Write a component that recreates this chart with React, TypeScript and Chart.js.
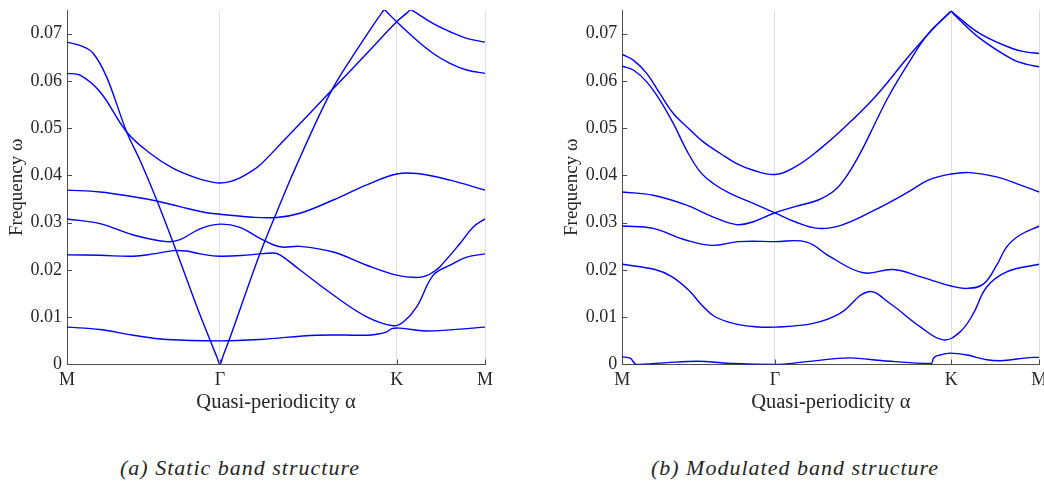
import React, { useEffect, useRef } from 'react';
import { Chart, registerables } from 'chart.js';

Chart.register(...registerables);

// ---- axes ----
const PATH_TICKS = [0, 36.6, 78.87, 100];
const PATH_LABELS = ['M', 'Γ', 'K', 'M'];
const FREQ_TICKS = [0, 0.01, 0.02, 0.03, 0.04, 0.05, 0.06, 0.07];
const FREQ_MAX = 0.075;

// ---- (a) static band structure ----
const staticA_k = [0, 3.11, 6.29, 9.5, 14.28, 17.46, 21.46, 26.24, 31.82, 35.9, 36.6, 37.3, 38.59, 46.17, 51.37, 53.35, 63.32, 69.3, 75.3, 75.91, 76.5, 78.87, 83.66, 87.63, 91.62, 95.62, 100];
const staticA_w = [0.0682, 0.0675, 0.0658, 0.0608, 0.0492, 0.0432, 0.0348, 0.0238, 0.0105, 0.0015, 0, 0.0017, 0.0047, 0.0235, 0.0348, 0.039, 0.058, 0.0665, 0.0744, 0.0751, 0.0746, 0.0725, 0.0686, 0.0658, 0.0637, 0.0623, 0.0616];

const staticB_k = [0, 3.11, 7.89, 14.28, 19.86, 25.43, 31.82, 34.21, 36.6, 38.99, 41.39, 43.78, 46.17, 51.75, 63.32, 71.7, 78.87, 81.6, 82.22, 82.8, 87.63, 91.62, 95.62, 100];
const staticB_w = [0.0616, 0.0612, 0.0577, 0.0492, 0.0447, 0.0415, 0.0392, 0.0387, 0.0384, 0.0387, 0.0395, 0.0407, 0.0422, 0.0473, 0.058, 0.0658, 0.0725, 0.0746, 0.0751, 0.0748, 0.0721, 0.0704, 0.069, 0.0682];

const staticC_k = [0, 7.89, 15.86, 21.46, 27.03, 33.4, 36.6, 43.78, 50.17, 55.74, 63.71, 71.7, 78.87, 83.66, 91.62, 100];
const staticC_w = [0.0369, 0.0365, 0.0355, 0.0346, 0.0334, 0.0321, 0.0318, 0.0312, 0.0311, 0.032, 0.0348, 0.038, 0.0403, 0.0404, 0.039, 0.0369];

const staticD_k = [0, 7.89, 15.86, 23.85, 27.03, 31.82, 36.6, 41.39, 46.17, 50.96, 55.74, 63.71, 71.7, 78.87, 83.66, 86.05, 87.63, 89.23, 94.02, 97.2, 100];
const staticD_w = [0.0308, 0.0298, 0.0274, 0.026, 0.0264, 0.0287, 0.0297, 0.029, 0.0267, 0.0249, 0.025, 0.0238, 0.021, 0.0189, 0.0184, 0.0188, 0.0196, 0.0207, 0.0256, 0.0291, 0.0308];

const staticE_k = [0, 7.89, 15.86, 20.7, 25.43, 28.6, 31.82, 36.6, 43.78, 49.35, 50.96, 55.74, 63.71, 71.7, 78.06, 80.45, 83.66, 87.63, 91.62, 95.62, 100];
const staticE_w = [0.0232, 0.0231, 0.0229, 0.0234, 0.0241, 0.024, 0.0234, 0.0229, 0.0232, 0.0236, 0.0232, 0.02, 0.0147, 0.0101, 0.0082, 0.009, 0.0122, 0.0189, 0.021, 0.0227, 0.0234];

const staticF_k = [0, 7.89, 15.86, 23.85, 36.6, 46.17, 59.74, 71.7, 74.09, 76.5, 77.7, 79.66, 86.05, 100];
const staticF_w = [0.0079, 0.0074, 0.0062, 0.0053, 0.005, 0.0053, 0.0062, 0.0062, 0.0064, 0.0069, 0.0076, 0.0077, 0.0071, 0.0079];

// ---- (b) modulated band structure ----
const modA_k = [0, 2.64, 5.85, 9.04, 12.23, 15.44, 19.42, 23.43, 27.43, 31.42, 36.6, 41.42, 47.0, 52.61, 60.6, 68.59, 74.2, 78.2, 78.87, 79.6, 85.78, 93.69, 97, 100];
const modA_w = [0.0656, 0.0644, 0.0616, 0.0573, 0.0531, 0.0503, 0.0471, 0.0447, 0.0425, 0.0411, 0.0402, 0.0418, 0.0453, 0.0496, 0.0566, 0.0651, 0.0707, 0.0742, 0.0747, 0.0742, 0.07, 0.0668, 0.0661, 0.0658];

const modB_k = [0, 2.64, 5.85, 9.04, 12.23, 15.44, 18.63, 21.82, 25.83, 31.42, 36.6, 41.42, 47.0, 52.61, 60.6, 68.59, 73.38, 78.87, 83.38, 89.78, 95.37, 100];
const modB_w = [0.0631, 0.0623, 0.0598, 0.0559, 0.051, 0.0453, 0.0408, 0.0383, 0.0362, 0.0341, 0.0321, 0.0302, 0.0288, 0.0295, 0.0327, 0.0365, 0.039, 0.0403, 0.0406, 0.0397, 0.038, 0.0365];

const modC_k = [0, 7.43, 15.44, 21.82, 27.43, 31.42, 36.6, 41.42, 47.0, 51.01, 54.2, 57.41, 60.6, 63.79, 68.59, 73.38, 78.2, 78.87, 79.6, 85.78, 93.69, 97, 100];
const modC_w = [0.0365, 0.0358, 0.0337, 0.0312, 0.0296, 0.0302, 0.0321, 0.0334, 0.0348, 0.0369, 0.0404, 0.0453, 0.051, 0.0566, 0.0637, 0.07, 0.0742, 0.0747, 0.074, 0.069, 0.0645, 0.0635, 0.063];

const modD_k = [0, 7.43, 14.63, 21.44, 27.82, 36.6, 44.22, 49.81, 57.79, 64.99, 71.39, 78.87, 82.59, 86.57, 89.78, 92.18, 95.37, 100];
const modD_w = [0.0293, 0.0288, 0.0265, 0.0252, 0.026, 0.026, 0.0259, 0.0228, 0.0194, 0.0201, 0.0186, 0.0166, 0.0161, 0.017, 0.021, 0.0249, 0.0274, 0.0293];

const modE_k = [0, 7.84, 11.85, 15.83, 19.04, 22.23, 27.03, 31.82, 36.6, 45.8, 52.21, 58.99, 64.2, 71.39, 76.98, 81.0, 84.2, 87.39, 92.18, 100];
const modE_w = [0.0212, 0.0201, 0.0186, 0.0158, 0.0126, 0.0101, 0.0086, 0.008, 0.0079, 0.0087, 0.0108, 0.0154, 0.0129, 0.008, 0.0052, 0.0069, 0.0108, 0.0164, 0.0196, 0.0212];

const modF_k = [0, 2.0, 2.64, 3.3, 10.7, 17.9, 26.7, 36.6, 44.2, 54.6, 62.6, 74.2, 74.6, 76.2, 78.6, 82.6, 87.4, 90.6, 98.6, 100];
const modF_w = [0.0016, 0.0013, 0.0006, 0, 0.0004, 0.0007, 0.0002, 0, 0.0006, 0.0014, 0.0008, 0.0002, 0.0013, 0.002, 0.0024, 0.002, 0.001, 0.0008, 0.0015, 0.0015];

type Band = { k: number[]; w: number[]; sharp: boolean };

const STATIC_BANDS: Band[] = [
  { k: staticA_k, w: staticA_w, sharp: true },
  { k: staticB_k, w: staticB_w, sharp: false },
  { k: staticC_k, w: staticC_w, sharp: false },
  { k: staticD_k, w: staticD_w, sharp: false },
  { k: staticE_k, w: staticE_w, sharp: false },
  { k: staticF_k, w: staticF_w, sharp: false },
];
const MOD_BANDS: Band[] = [
  { k: modA_k, w: modA_w, sharp: false },
  { k: modB_k, w: modB_w, sharp: false },
  { k: modC_k, w: modC_w, sharp: false },
  { k: modD_k, w: modD_w, sharp: false },
  { k: modE_k, w: modE_w, sharp: false },
  { k: modF_k, w: modF_w, sharp: true },
];

// ---- styles ----
const LINE = '#0000ff';
const AXIS = '#4d4d4d';
const GRID = '#dfdfdf';
const TEXT = '#262626';
const FONT = "'Liberation Serif', 'DejaVu Serif', 'Times New Roman', serif";

const innerTicks = {
  id: 'innerTicks',
  afterDraw(chart: any) {
    const { ctx, chartArea, scales } = chart;
    const x = scales.x;
    const y = scales.y;
    ctx.save();
    ctx.strokeStyle = AXIS;
    ctx.lineWidth = 1;
    ctx.beginPath();
    for (const v of FREQ_TICKS) {
      if (v === 0) continue;
      const py = Math.round(y.getPixelForValue(v)) + 0.5;
      ctx.moveTo(chartArea.left, py);
      ctx.lineTo(chartArea.left + 5, py);
    }
    for (const v of PATH_TICKS) {
      if (v === 0) continue;
      const px = Math.round(x.getPixelForValue(v)) + 0.5;
      ctx.moveTo(px, chartArea.bottom);
      ctx.lineTo(px, chartArea.bottom - 5);
    }
    ctx.stroke();
    ctx.restore();
  },
};

function BandChart({ bands, width, height, yWidth, rightPad }: { bands: Band[]; width: number; height: number; yWidth: number; rightPad: number }) {
  const ref = useRef<HTMLCanvasElement | null>(null);
  useEffect(() => {
    if (!ref.current) return;
    const chart = new Chart(ref.current, {
      type: 'line',
      data: {
        datasets: bands.map((b) => ({
          data: b.k.map((kv, i) => ({ x: kv, y: b.w[i] })),
          borderColor: LINE,
          borderWidth: 1.4,
          pointRadius: 0,
          fill: false,
          cubicInterpolationMode: b.sharp ? 'monotone' : 'default',
          tension: b.sharp ? 0 : 0.4,
        })),
      },
      options: {
        animation: false,
        responsive: false,
        devicePixelRatio: 1,
        layout: { padding: { top: 10, left: 0, right: rightPad, bottom: 0 } },
        plugins: { legend: { display: false }, tooltip: { enabled: false } },
        events: [],
        scales: {
          x: {
            type: 'linear',
            min: 0,
            max: 100,
            afterBuildTicks: (s: any) => {
              s.ticks = PATH_TICKS.map((v) => ({ value: v }));
            },
            afterFit: (s: any) => {
              s.height = height - 364.5;
              s.paddingLeft = 0;
              s.paddingRight = 0;
            },
            ticks: {
              autoSkip: false,
              maxRotation: 0,
              padding: 5,
              color: TEXT,
              font: { family: FONT, size: 18 },
              callback: (_v: any, i: number) => PATH_LABELS[i],
            },
            grid: { color: GRID, drawTicks: false, lineWidth: 1 },
            border: { color: AXIS, width: 1 },
            title: {
              display: true,
              text: 'Quasi-periodicity α',
              color: TEXT,
              font: { family: FONT, size: 20.5 },
              padding: { top: 0, bottom: 5 },
            },
          },
          y: {
            type: 'linear',
            min: 0,
            max: FREQ_MAX,
            afterBuildTicks: (s: any) => {
              s.ticks = FREQ_TICKS.map((v) => ({ value: v }));
            },
            afterFit: (s: any) => {
              s.width = yWidth;
              s.paddingTop = 0;
              s.paddingBottom = 0;
            },
            ticks: {
              padding: 5,
              color: TEXT,
              font: { family: FONT, size: 18 },
              callback: (v: any) => (v === 0 ? '0' : Number(v).toFixed(2)),
            },
            grid: { display: false, drawTicks: false },
            border: { color: AXIS, width: 1 },
            title: {
              display: true,
              text: 'Frequency ω',
              color: TEXT,
              font: { family: FONT, size: 19 },
              padding: { top: 6, bottom: 0 },
            },
          },
        },
      },
      plugins: [innerTicks],
    } as any);
    return () => chart.destroy();
  }, []);
  return <canvas ref={ref} width={width} height={height} style={{ display: 'block', width, height }} />;
}

const captionStyle: React.CSSProperties = {
  position: 'absolute',
  top: 455,
  width: 400,
  textAlign: 'center',
  fontFamily: FONT,
  fontStyle: 'italic',
  fontSize: 22,
  letterSpacing: '1px',
  lineHeight: '26px',
  color: TEXT,
};

export default function App() {
  return (
    <div style={{ position: 'fixed', left: 0, top: 0, width: 1044, height: 488, background: '#fff', overflow: 'hidden' }}>
      <div style={{ position: 'absolute', left: 0, top: 0 }}>
        <BandChart bands={STATIC_BANDS} width={540} height={420} yWidth={67} rightPad={55} />
      </div>
      <div style={{ position: 'absolute', left: 555, top: 0 }}>
        <BandChart bands={MOD_BANDS} width={489} height={420} yWidth={67.3} rightPad={4.7} />
      </div>
      <div style={{ ...captionStyle, left: 40 }}>(a) Static band structure</div>
      <div style={{ ...captionStyle, left: 595 }}>(b) Modulated band structure</div>
    </div>
  );
}
